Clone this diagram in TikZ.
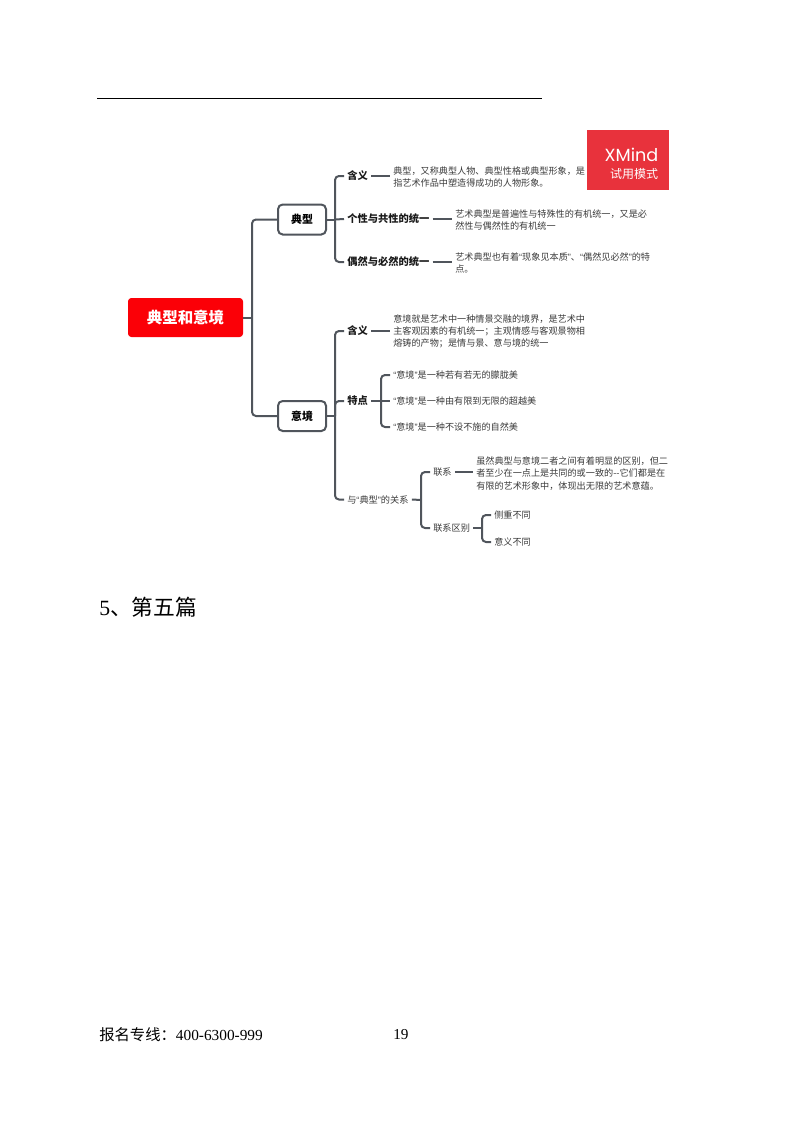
\documentclass[tikz,border=0pt]{standalone}
\usepackage{fontspec}
\setmainfont{Liberation Serif}
\newfontfamily\cjk{Noto Sans CJK SC}
\newfontfamily\latf{Liberation Sans}
\newfontfamily\xmf{Poppins}
\newcommand\qa{{\latf “}}
\newcommand\qb{{\latf ”}}
\definecolor{linkc}{HTML}{50555C}
\definecolor{rootred}{HTML}{FB0007}
\definecolor{xmred}{HTML}{E8323C}
\definecolor{txtc}{HTML}{3A3A3A}
\tikzset{
  x=0.75pt,y=-0.75pt,
  link/.style={draw=linkc,line width=1.5pt,rounded corners=3pt},
  rootbox/.style={fill=rootred,rounded corners=2.5pt,minimum width=86.25pt,minimum height=29.25pt,inner sep=0pt,text=white,font=\cjk\bfseries\fontsize{11.6}{14}\selectfont},
  topicbox/.style={draw=linkc,fill=white,line width=1.5pt,rounded corners=3.5pt,minimum width=36pt,minimum height=22.5pt,inner sep=0pt,text=black,font=\cjk\bfseries\fontsize{8.2}{10}\selectfont},
  headb/.style={anchor=west,inner xsep=2.25pt,inner ysep=0pt,text=black!90,font=\cjk\bfseries\fontsize{7.7}{10}\selectfont},
  headr/.style={anchor=west,inner xsep=2.25pt,inner ysep=0pt,text=txtc,font=\cjk\fontsize{6.9}{10}\selectfont},
  desc/.style={anchor=west,inner xsep=2.25pt,inner ysep=0pt,align=left,text=txtc,font=\cjk\fontsize{6.85}{9.1}\selectfont},
  pagetext/.style={anchor=west,inner sep=0pt,text=black},
}
\begin{document}
\begin{tikzpicture}
\useasboundingbox (0,0) rectangle (800,1124);
% top rule
\coordinate (ruleL) at (97,98.5);
\coordinate (ruleR) at (542,98.5);
\draw[black,line width=0.8pt] (ruleL) -- (ruleR);
% watermark
\node[fill=xmred,minimum width=61.5pt,minimum height=45pt,inner sep=0pt] (xm) at (628,160) {};
\node[anchor=east,inner sep=0pt,text=white,font=\xmf\fontsize{13.2}{16}\selectfont] (xmname) at (658.5,155) {XMind};
\node[anchor=east,inner sep=0pt,text=white,font=\cjk\fontsize{9}{11}\selectfont] (xmtrial) at (658.5,174) {试用模式};
% main nodes
\node[rootbox] (root) at (185.5,317.5) {典型和意境};
\node[topicbox] (dx) at (302,219.5) {典型};
\node[topicbox] (yj) at (302,416) {意境};
\coordinate (t0) at (252,317.5);
\coordinate (t1) at (335,219.5);
\coordinate (t2) at (335,416);
\coordinate (t3) at (381,401);
\coordinate (t4) at (421,500);
\coordinate (t5) at (482,528);
% typical
\node[headb] (a1) at (344,176) {含义};
\node[headb] (a2) at (344,219) {个性与共性的统一};
\node[headb] (a3) at (344,262) {偶然与必然的统一};
\node[desc] (a1d) at (390,177) {典型，又称典型人物、典型性格或典型形象，是\\指艺术作品中塑造得成功的人物形象。};
\node[desc] (a2d) at (452,220) {艺术典型是普遍性与特殊性的有机统一，又是必\\然性与偶然性的有机统一};
\node[desc] (a3d) at (452,263) {艺术典型也有着\qa 现象见本质\qb 、\qa 偶然见必然\qb 的特\\点。};
% mood
\node[headb] (b1) at (344,331) {含义};
\node[headb] (b2) at (344,401) {特点};
\node[headr] (b3) at (344,499.5) {与\qa 典型\qb 的关系};
\node[desc] (b1d) at (390,331) {意境就是艺术中一种情景交融的境界，是艺术中\\主客观因素的有机统一；主观情感与客观景物相\\熔铸的产物；是情与景、意与境的统一};
\node[desc] (c1) at (390,375) {\qa 意境\qb 是一种若有若无的朦胧美};
\node[desc] (c2) at (390,401) {\qa 意境\qb 是一种由有限到无限的超越美};
\node[desc] (c3) at (390,427) {\qa 意境\qb 是一种不设不施的自然美};
\node[headr] (e1) at (430,472) {联系};
\node[headr] (e2) at (430,528) {联系区别};
\node[desc] (e1d) at (473,473.5) {虽然典型与意境二者之间有着明显的区别，但二\\者至少在一点上是共同的或一致的--它们都是在\\有限的艺术形象中，体现出无限的艺术意蕴。};
\node[desc] (f1) at (491,515) {侧重不同};
\node[desc] (f2) at (491,542) {意义不同};
% connectors
\draw[link] (root.east) -- (t0);
\draw[link] (dx.west) -| (t0) |- (yj.west);
\draw[link] (dx.east) -- (t1);
\draw[link] (a1.west) -| (t1) |- (a3.west);
\draw[link] (t1) -- (a2.west);
\draw[link] (a1.east) -- (a1.east -| a1d.west);
\draw[link] (a2.east) -- (a2.east -| a2d.west);
\draw[link] (a3.east) -- (a3.east -| a3d.west);
\draw[link] (yj.east) -- (t2);
\draw[link] (b1.west) -| (t2) |- (b3.west);
\draw[link] (t2) |- (b2.west);
\draw[link] (b1.east) -- (b1.east -| b1d.west);
\draw[link] (b2.east) -- (c2.west);
\draw[link] (c1.west) -| (t3) |- (c3.west);
\draw[link] (b3.east) -- (t4);
\draw[link] (e1.west) -| (t4) |- (e2.west);
\draw[link] (e1.east) -- (e1.east -| e1d.west);
\draw[link] (e2.east) -- (t5);
\draw[link] (f1.west) -| (t5) |- (f2.west);
% page text
\node[pagetext,font=\fontsize{16.3}{20}\selectfont] (heading) at (99,607) {5{\cjk 、第五篇}};
\node[pagetext,font=\fontsize{11.5}{14}\selectfont] (footer) at (99,1035) {{\cjk 报名专线：}400-6300-999};
\node[pagetext,font=\fontsize{11.4}{14}\selectfont] (pageno) at (393,1034.5) {19};
\end{tikzpicture}
\end{document}
